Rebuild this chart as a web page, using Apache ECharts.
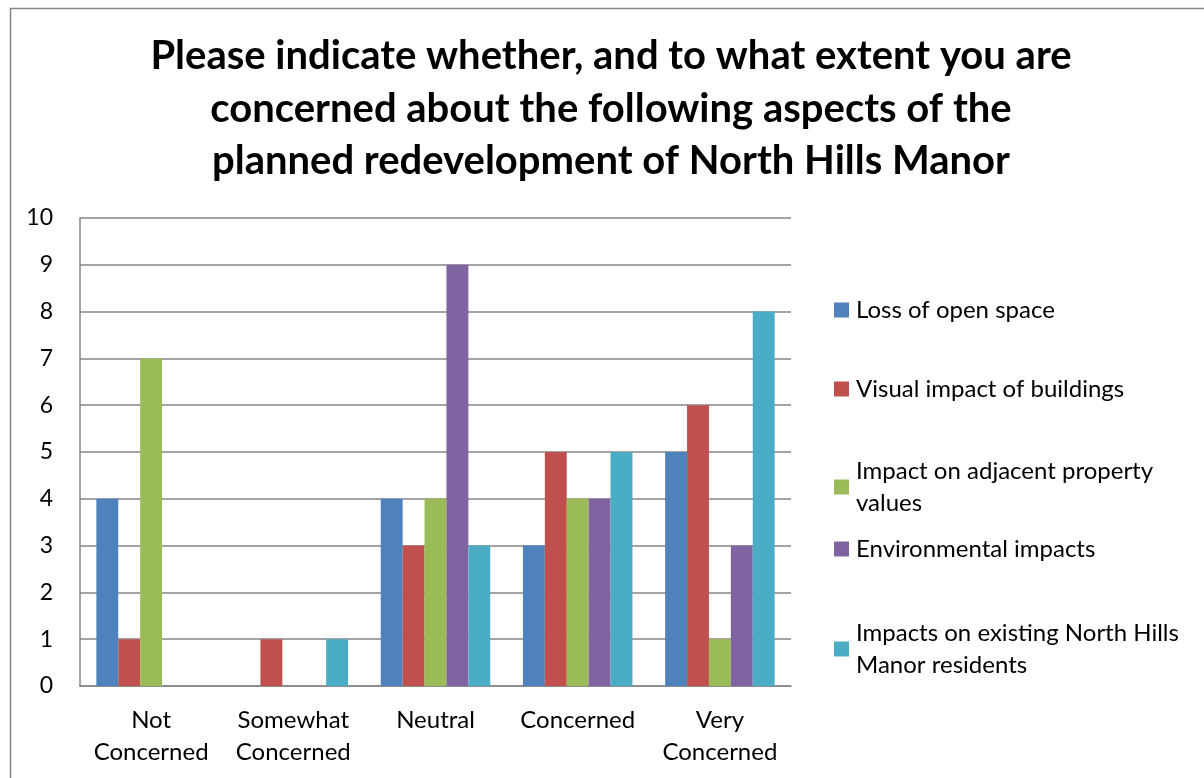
<!DOCTYPE html>
<html>
<head>
<meta charset="utf-8">
<script src="https://cdn.jsdelivr.net/npm/echarts@6/dist/echarts.min.js"></script>
<style>html,body{margin:0;padding:0;background:#fff}#c{width:1204px;height:778px}</style>
</head>
<body>
<div id="c"></div>
<script>
const categories = ['Not Concerned', 'Somewhat Concerned', 'Neutral', 'Concerned', 'Very Concerned'];
const categoryLabels = ['Not\nConcerned', 'Somewhat\nConcerned', 'Neutral', 'Concerned', 'Very\nConcerned'];
const seriesNames = ['Loss of open space', 'Visual impact of buildings', 'Impact on adjacent property values', 'Environmental impacts', 'Impacts on existing North Hills Manor residents'];
const legendLabels = ['Loss of open space', 'Visual impact of buildings', 'Impact on adjacent property\nvalues', 'Environmental impacts', 'Impacts on existing North Hills\nManor residents'];
const lossOfOpenSpace = [4, 0, 4, 3, 5];
const visualImpact = [1, 1, 3, 5, 6];
const propertyValues = [7, 0, 4, 4, 1];
const environmental = [0, 0, 9, 4, 3];
const existingResidents = [0, 1, 3, 5, 8];
const yTicks = [0, 1, 2, 3, 4, 5, 6, 7, 8, 9, 10];

const seriesValues = [lossOfOpenSpace, visualImpact, propertyValues, environmental, existingResidents];
const colors = ['#4F81BD', '#C0504D', '#9BBB59', '#8064A2', '#4BACC6'];
const FONT = 'Lato, "Open Sans", sans-serif';
const legendCenters = [310, 389, 470, 549, 632];

const chart = echarts.init(document.getElementById('c'));
const legends = seriesNames.map((name, i) => {
  const two = legendLabels[i].indexOf('\n') >= 0;
  return {
    data: [name],
    orient: 'vertical',
    left: 834,
    top: two ? legendCenters[i] - 31 : legendCenters[i] - 16,
    padding: 0,
    itemWidth: 15,
    itemHeight: 15,
    icon: 'rect',
    selectedMode: false,
    formatter: () => legendLabels[i],
    textStyle: {
      fontFamily: FONT, fontSize: 24, color: '#000', lineHeight: 32,
      padding: two ? [32, 0, 0, 2] : [0, 0, 0, 2]
    }
  };
});

chart.setOption({
  animation: false,
  color: colors,
  title: {
    text: 'Please indicate whether, and to what extent you are\nconcerned about the following aspects of the\nplanned redevelopment of North Hills Manor',
    left: 611,
    textAlign: 'center',
    top: 30,
    padding: 0,
    textStyle: { fontFamily: FONT, fontWeight: 'bold', fontSize: 40, lineHeight: 52.5, color: '#000' }
  },
  graphic: [{
    type: 'rect', silent: true,
    shape: { x: 10.5, y: 8.5, width: 1300, height: 900 },
    style: { fill: 'none', stroke: '#868686', lineWidth: 1.5 }
  }],
  legend: legends,
  grid: { left: 80, right: 413, top: 218, bottom: 92, containLabel: false },
  xAxis: {
    type: 'category',
    data: categories,
    axisTick: { show: false },
    axisLine: { lineStyle: { color: '#868686', width: 1.5 } },
    axisLabel: {
      interval: 0, margin: 18, color: '#000', fontFamily: FONT, fontSize: 24, lineHeight: 32,
      formatter: (v, idx) => categoryLabels[idx]
    }
  },
  yAxis: {
    type: 'value', min: 0, max: 10, interval: 1,
    axisLine: { show: true, lineStyle: { color: '#868686', width: 1.5 } },
    axisTick: { show: false },
    splitLine: { lineStyle: { color: '#868686', width: 1.5 } },
    axisLabel: {
      margin: 27, color: '#000', fontFamily: FONT, fontSize: 23,
      formatter: v => String(yTicks[yTicks.indexOf(v)])
    }
  },
  series: seriesNames.map((name, i) => ({
    name, type: 'bar', data: seriesValues[i],
    barGap: '0%', barCategoryGap: '23%',
    itemStyle: { color: colors[i] }
  }))
});
</script>
</body>
</html>
